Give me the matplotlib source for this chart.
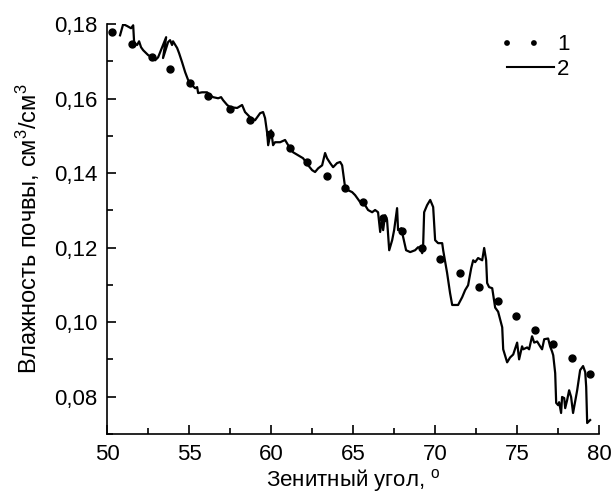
import matplotlib
matplotlib.use("Agg")
import matplotlib.pyplot as plt
from matplotlib.lines import Line2D
from matplotlib.ticker import MultipleLocator, FuncFormatter

plt.rcParams['font.family'] = ['Liberation Sans', 'DejaVu Sans']
plt.rcParams['mathtext.fontset'] = 'custom'
plt.rcParams['mathtext.rm'] = 'Liberation Sans'
plt.rcParams['mathtext.it'] = 'Liberation Sans'

# Curve 1 (dotted trend)
angle1 = [50.30, 51.52, 52.74, 53.84, 55.06, 56.16, 57.50, 58.72, 59.94,
          61.16, 62.20, 63.41, 64.51, 65.61, 66.83, 67.99, 69.21, 70.30,
          71.52, 72.68, 73.84, 74.94, 76.10, 77.20, 78.35, 79.45]
moist1 = [0.1779, 0.1746, 0.1711, 0.1679, 0.1642, 0.1607, 0.1572, 0.1542,
          0.1505, 0.1467, 0.1430, 0.1392, 0.1360, 0.1322, 0.1279, 0.1244,
          0.1199, 0.1169, 0.1132, 0.1094, 0.1056, 0.1016, 0.0979, 0.0941,
          0.0903, 0.0860]

# Curve 2 (measured)
angle2 = [50.79, 50.98, 51.22, 51.46, 51.59, 51.65, 51.83, 51.95, 52.07,
          52.20, 52.50, 52.74, 52.93, 53.11, 53.60, 53.41, 53.72, 53.84,
          53.96, 54.02, 54.27, 54.39, 54.57, 54.76, 54.94, 55.18, 55.37,
          55.49, 55.55, 55.79, 56.10, 56.28, 56.46, 56.77, 56.95, 57.07,
          57.32, 57.50, 57.93, 58.23, 58.41, 58.72, 59.02, 59.33, 59.51,
          59.63, 59.76, 59.82, 60.00, 60.12, 60.24, 60.55, 60.85, 61.04,
          61.34, 61.65, 61.95, 62.26, 62.50, 62.68, 62.87, 63.11, 63.29,
          63.41, 63.60, 63.78, 64.02, 64.21, 64.33, 64.51, 64.70, 64.94,
          65.12, 65.43, 65.61, 65.73, 65.91, 66.16, 66.34, 66.52, 66.65,
          66.77, 66.83, 66.95, 67.07, 67.20, 67.38, 67.50, 67.68, 67.74,
          67.93, 68.05, 68.23, 68.48, 68.78, 68.96, 69.09, 69.21, 69.27,
          69.33, 69.51, 69.70, 69.88, 70.00, 70.18, 70.43, 70.49, 70.73,
          70.91, 71.04, 71.22, 71.40, 71.65, 71.83, 72.01, 72.20, 72.32,
          72.44, 72.62, 72.87, 72.99, 73.11, 73.17, 73.29, 73.48, 73.54,
          73.66, 73.84, 74.09, 74.15, 74.39, 74.57, 74.76, 75.00, 75.12,
          75.30, 75.37, 75.61, 75.73, 75.91, 76.04, 76.22, 76.40, 76.52,
          76.65, 76.89, 77.01, 77.13, 77.20, 77.32, 77.38, 77.50, 77.56,
          77.68, 77.74, 77.87, 77.93, 78.05, 78.17, 78.29, 78.41, 78.66,
          78.84, 79.02, 79.15, 79.21, 79.27, 79.45]
moist2 = [0.1770, 0.1800, 0.1795, 0.1789, 0.1797, 0.1749, 0.1744, 0.1754,
          0.1738, 0.1730, 0.1717, 0.1711, 0.1703, 0.1711, 0.1765, 0.1709,
          0.1752, 0.1757, 0.1744, 0.1754, 0.1736, 0.1722, 0.1698, 0.1671,
          0.1650, 0.1636, 0.1628, 0.1631, 0.1615, 0.1617, 0.1617, 0.1609,
          0.1604, 0.1601, 0.1604, 0.1596, 0.1583, 0.1577, 0.1575, 0.1583,
          0.1564, 0.1550, 0.1542, 0.1561, 0.1564, 0.1548, 0.1507, 0.1475,
          0.1515, 0.1475, 0.1483, 0.1483, 0.1489, 0.1475, 0.1456, 0.1448,
          0.1440, 0.1421, 0.1408, 0.1403, 0.1413, 0.1421, 0.1454, 0.1440,
          0.1427, 0.1416, 0.1427, 0.1430, 0.1421, 0.1362, 0.1354, 0.1349,
          0.1341, 0.1322, 0.1328, 0.1314, 0.1301, 0.1295, 0.1301, 0.1295,
          0.1242, 0.1282, 0.1247, 0.1287, 0.1274, 0.1193, 0.1220, 0.1247,
          0.1306, 0.1247, 0.1252, 0.1228, 0.1193, 0.1188, 0.1193, 0.1201,
          0.1199, 0.1185, 0.1207, 0.1295, 0.1314, 0.1328, 0.1309, 0.1220,
          0.1212, 0.1212, 0.1193, 0.1132, 0.1078, 0.1046, 0.1046, 0.1046,
          0.1067, 0.1086, 0.1099, 0.1145, 0.1166, 0.1161, 0.1172, 0.1166,
          0.1199, 0.1166, 0.1105, 0.1094, 0.1091, 0.1073, 0.1039, 0.1028,
          0.0986, 0.0927, 0.0892, 0.0905, 0.0913, 0.0945, 0.0900, 0.0935,
          0.0927, 0.0932, 0.0927, 0.0962, 0.0945, 0.0948, 0.0935, 0.0927,
          0.0954, 0.0956, 0.0935, 0.0921, 0.0911, 0.0863, 0.0783, 0.0777,
          0.0785, 0.0756, 0.0799, 0.0796, 0.0769, 0.0791, 0.0817, 0.0799,
          0.0756, 0.0817, 0.0871, 0.0882, 0.0866, 0.0826, 0.0729, 0.0737]

labels = ["1", "2"]

fig = plt.figure(figsize=(6.12, 4.93), dpi=100)
ax = fig.add_axes([0.175, 0.120, 0.804, 0.831])

ax.plot(angle1, moist1, linestyle="none", marker="o", markersize=5,
        color="black")
ax.plot(angle2, moist2, color="black", linewidth=1.6)

ax.set_xlim(50, 80)
ax.set_ylim(0.07, 0.18)

# Only left and bottom axes
ax.spines["top"].set_visible(False)
ax.spines["right"].set_visible(False)
for s in ("left", "bottom"):
    ax.spines[s].set_linewidth(1.2)

ax.xaxis.set_major_locator(MultipleLocator(5))
ax.xaxis.set_minor_locator(MultipleLocator(2.5))
ax.yaxis.set_major_locator(MultipleLocator(0.02))
ax.yaxis.set_minor_locator(MultipleLocator(0.01))
ax.yaxis.set_major_formatter(FuncFormatter(lambda v, p: ("%.2f" % v).replace(".", ",")))
ax.tick_params(which="both", direction="in", width=1.2, labelsize=16)
ax.tick_params(which="major", length=6.5, pad=7)
ax.tick_params(which="minor", length=4)

ax.set_xlabel(r"Зенитный угол, $^{\rm o}$", fontsize=16, labelpad=2)
ax.set_ylabel(r"Влажность почвы, см$^3$/см$^3$", fontsize=17, labelpad=9)

# Legend: dotted handle for curve 1, solid line for curve 2
h1 = Line2D([], [], color="black", linewidth=4.2, linestyle=(0, (0.01, 4.6)),
            dash_capstyle="round")
h2 = Line2D([], [], color="black", linewidth=1.5)
ax.legend([h1, h2], labels, loc="upper left", bbox_to_anchor=(0.813, 0.975),
          frameon=False, fontsize=16, handlelength=2.1, handletextpad=0.15,
          labelspacing=0.15, borderpad=0, borderaxespad=0)

fig.savefig("out.png", dpi=100)
